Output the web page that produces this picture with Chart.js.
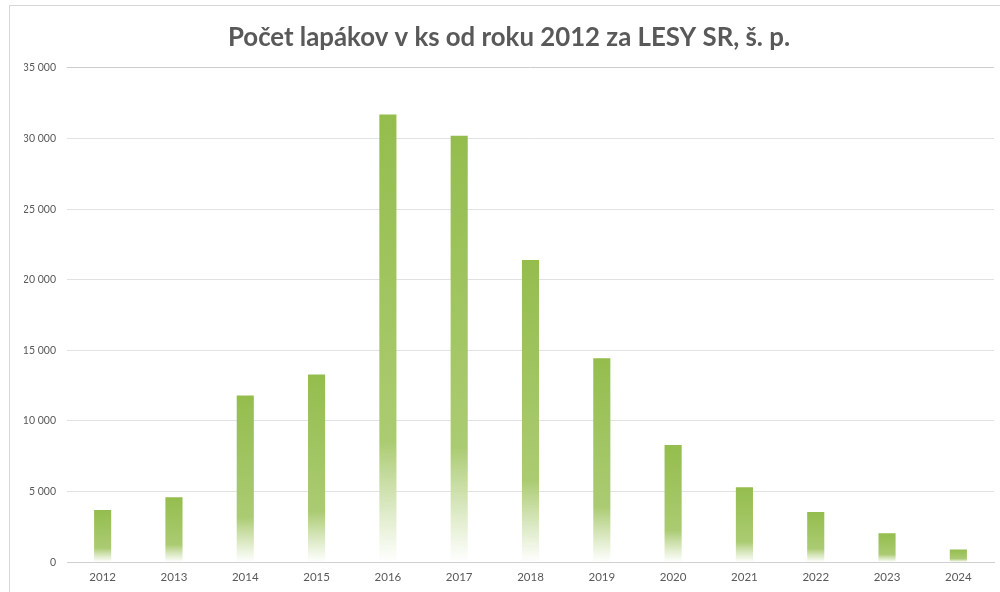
<!DOCTYPE html>
<html>
<head>
<meta charset="utf-8">
<script src="https://cdn.jsdelivr.net/npm/chart.js@4.4.1/dist/chart.umd.min.js"></script>
<style>
  html, body { margin: 0; padding: 0; background: #fff; }
  #frame { position: absolute; left: 9px; top: 5px; width: 991px; height: 587px;
           border-left: 1px solid #d6d6d6; border-top: 1px solid #d6d6d6; }
  #wrap { position: absolute; left: 0; top: 0; width: 1000px; height: 592px; }
</style>
</head>
<body>
<div id="frame"></div>
<div id="wrap"><canvas id="graf"></canvas></div>
<script>
const roky = ["2012","2013","2014","2015","2016","2017","2018","2019","2020","2021","2022","2023","2024"];
const lapaky = [3700, 4600, 11800, 13300, 31700, 30200, 21400, 14450, 8300, 5300, 3550, 2050, 900];
const osY = [0, 5000, 10000, 15000, 20000, 25000, 30000, 35000];

function fmt(v){ return String(v).replace(/\B(?=(\d{3})+(?!\d))/g, " ") }

function barFill(ctx) {
  const chart = ctx.chart;
  const ca = chart.chartArea;
  if (!ca || ctx.type !== "data") return "#9cc05a";
  const y = chart.scales.y;
  const top = y.getPixelForValue(ctx.raw);
  const base = y.getPixelForValue(0);
  const g = chart.ctx.createLinearGradient(0, top, 0, base);
  g.addColorStop(0, "#94bd4d");
  g.addColorStop(0.73, "#abcb72");
  g.addColorStop(1, "rgba(255,255,255,0.9)");
  return g;
}

new Chart(document.getElementById("graf"), {
  type: "bar",
  data: {
    labels: roky,
    datasets: [{
      data: lapaky,
      backgroundColor: barFill,
      borderWidth: 0,
      barPercentage: 0.24,
      categoryPercentage: 1
    }]
  },
  options: {
    responsive: true,
    maintainAspectRatio: false,
    animation: false,
    layout: { padding: { left: 24, right: 6, top: 0, bottom: 0 } },
    plugins: {
      legend: { display: false },
      tooltip: { enabled: false },
      title: {
        display: true,
        text: "Počet lapákov v ks od roku 2012 za LESY SR, š. p.",
        color: "#595959",
        font: { family: "Lato", size: 25.8, weight: "bold" },
        padding: { top: 22, bottom: 15 }
      }
    },
    scales: {
      x: {
        grid: { display: false, drawTicks: false },
        border: { color: "#d0d0d0", width: 1 },
        ticks: { color: "#595959", font: { family: "Lato", size: 11.5 }, padding: 8 }
      },
      y: {
        min: 0, max: 35000,
        afterFit: s => { s.width = 43 },
        afterBuildTicks: s => { s.ticks = osY.map(v => ({ value: v })) },
        grid: { color: c => c.tick.value === 35000 ? "#cccccc" : "#e2e2e2", drawTicks: false },
        border: { display: false },
        ticks: { color: "#595959", font: { family: "Lato", size: 10.5 }, padding: 11, callback: v => fmt(v) }
      }
    }
  }
});
</script>
</body>
</html>
